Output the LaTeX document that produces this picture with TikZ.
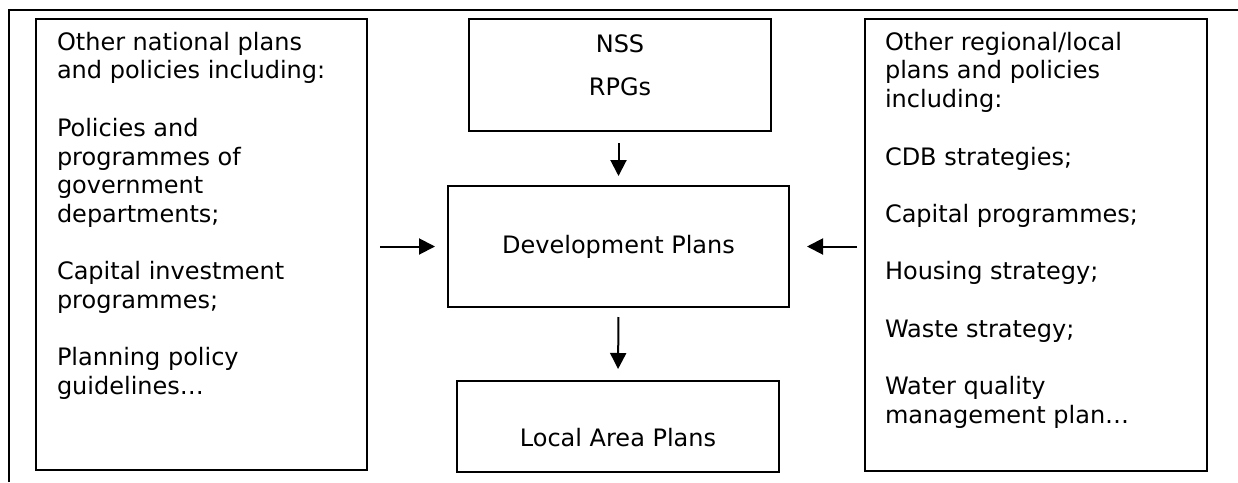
\documentclass[tikz,border=0pt]{standalone}
\usepackage{fontspec}
\setmainfont{DejaVu Sans}
\usetikzlibrary{shapes, arrows.meta}

\begin{document}
\begin{tikzpicture}[x=1pt, y=-1pt,
  every node/.style={font=\fontsize{24}{28.7}\selectfont, inner sep=0pt, outer sep=0pt},
  planbox/.style={draw, line width=2pt},
  plantext/.style={align=left, anchor=north west},
  feed/.style={line width=2pt, -{Triangle[length=16pt, width=16pt]}},
  frame/.style={line width=2.6pt}]
\useasboundingbox (0,0) rectangle (1238,482);
\draw[frame] (9,482) -- (9,10) -- (1238,10);

\node[planbox, minimum width=331pt, minimum height=451pt] (natl) at (201.5,244.5) {};
\node[planbox, minimum width=302pt, minimum height=112pt] (nss) at (620,75) {};
\node[planbox, minimum width=342pt, minimum height=452pt] (regl) at (1036,245) {};
\node[planbox, minimum width=341pt, minimum height=121pt] (dev) at (618.5,246.5) {Development Plans};
\node[planbox, minimum width=322pt, minimum height=91pt] (lap) at (618,426.5) {};

\node[plantext, xshift=21pt, yshift=-13pt] (natltext) at (natl.north west) {Other national plans\\
and policies including:\\[28.7pt]
Policies and\\ programmes of\\ government\\ departments;\\[28.7pt]
Capital investment\\ programmes;\\[28.7pt]
Planning policy\\ guidelines…};
\node[plantext, xshift=20pt, yshift=-13pt] (regltext) at (regl.north west) {Other regional/local\\
plans and policies\\ including:\\[28.7pt]
CDB strategies;\\[28.7pt]
Capital programmes;\\[28.7pt]
Housing strategy;\\[28.7pt]
Waste strategy;\\[28.7pt]
Water quality\\ management plan…};
\node[align=center, anchor=north, yshift=-16pt] (nsstext) at (nss.north) {NSS\\[14pt] RPGs};
\node[yshift=-11pt] (laptext) at (lap.center) {Local Area Plans};

\draw[feed, shorten <=12pt, shorten >=10pt] (dev.north |- nss.south) -- (dev.north);
\draw[feed, shorten <=13pt, shorten >=13pt] (dev.west -| natl.east) -- (dev.west);
\draw[feed, shorten <=8pt, shorten >=18pt] (dev.east -| regl.west) -- (dev.east);
\draw[feed, shorten <=10pt, shorten >=12pt] (dev.south) -- (lap.north);
\end{tikzpicture}
\end{document}
